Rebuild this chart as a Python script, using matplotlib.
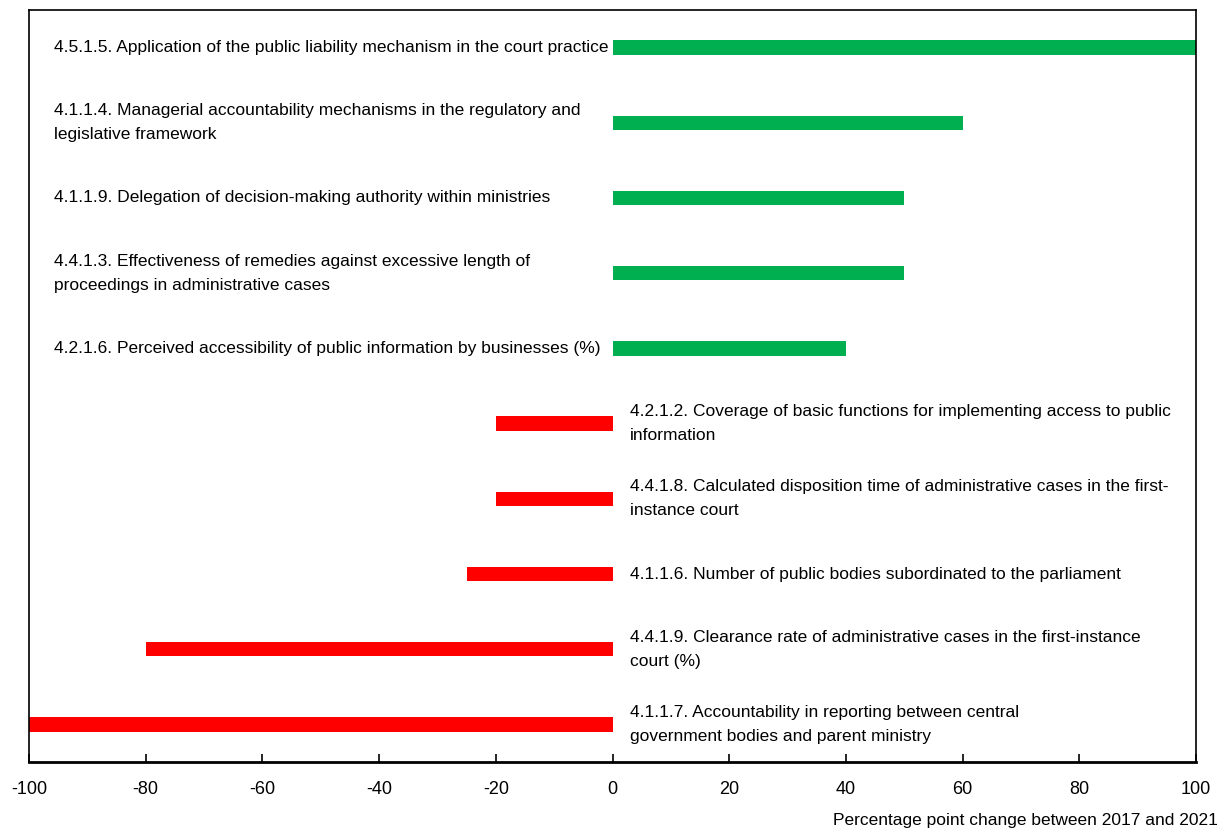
import matplotlib
matplotlib.use('Agg')
import matplotlib.pyplot as plt

plt.rcParams['font.family'] = ['Liberation Sans', 'DejaVu Sans']

labels = [
    "4.5.1.5. Application of the public liability mechanism in the court practice",
    "4.1.1.4. Managerial accountability mechanisms in the regulatory and\nlegislative framework",
    "4.1.1.9. Delegation of decision-making authority within ministries",
    "4.4.1.3. Effectiveness of remedies against excessive length of\nproceedings in administrative cases",
    "4.2.1.6. Perceived accessibility of public information by businesses (%)",
    "4.2.1.2. Coverage of basic functions for implementing access to public\ninformation",
    "4.4.1.8. Calculated disposition time of administrative cases in the first-\ninstance court",
    "4.1.1.6. Number of public bodies subordinated to the parliament",
    "4.4.1.9. Clearance rate of administrative cases in the first-instance\ncourt (%)",
    "4.1.1.7. Accountability in reporting between central\ngovernment bodies and parent ministry",
]
values = [100, 60, 50, 50, 40, -20, -20, -25, -80, -100]
xticks = [-100, -80, -60, -40, -20, 0, 20, 40, 60, 80, 100]
xlabel = "Percentage point change between 2017 and 2021"

fig = plt.figure(figsize=(12.2, 8.3), dpi=100)
ax = fig.add_axes([29 / 1220, 1 - 762 / 830, (1196 - 29) / 1220, (762 - 10) / 830])

pos = list(range(len(values)))
colors = ['#00B050' if v > 0 else '#FF0000' for v in values]
ax.barh(pos, values, height=0.19, color=colors)

for i, (lab, v) in enumerate(zip(labels, values)):
    x = -95.7 if v > 0 else 3
    ax.text(x, i, lab, ha='left', va='center', fontsize=12.5, linespacing=1.75)

ax.set_xlim(-100, 100)
ax.set_ylim(9.5, -0.5)
ax.set_yticks([])
ax.set_xticks(xticks)
ax.set_xticklabels([str(t) for t in xticks], fontsize=13)
ax.tick_params(axis='x', direction='in', length=6, width=1.2, pad=14)
for s in ax.spines.values():
    s.set_linewidth(1.2)
ax.spines['bottom'].set_linewidth(2)

fig.text(1218 / 1220, 1 - 820 / 830, xlabel, ha='right', va='center', fontsize=12.5)

fig.savefig('out.png', dpi=100)
